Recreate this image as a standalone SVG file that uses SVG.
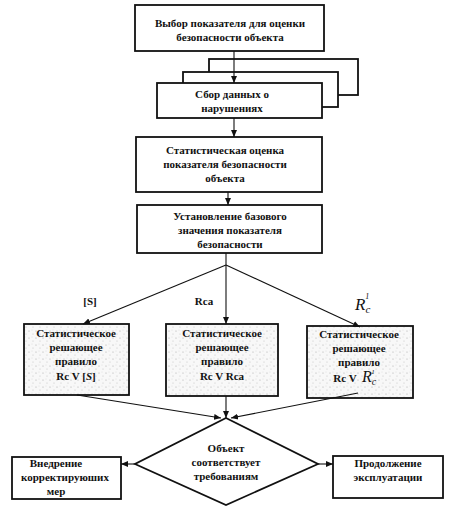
<svg xmlns="http://www.w3.org/2000/svg" width="456" height="521" viewBox="0 0 456 521">
<style>
.b{fill:#fff;stroke:#111;stroke-width:1.8}
.t{font-family:"Liberation Serif","DejaVu Serif",serif;font-weight:bold;font-size:11px;fill:#111;text-anchor:middle}
.l{stroke:#111;stroke-width:1.1;fill:none}
.r{font-family:"Liberation Serif",serif;font-style:italic;fill:#111}
.s{fill:url(#dots)}
</style>
<defs>
<marker id="a" markerWidth="8" markerHeight="8" refX="7" refY="4" orient="auto" markerUnits="userSpaceOnUse"><path d="M0,1 L7,4 L0,7 Z" fill="#111"/></marker>
<pattern id="dots" width="7" height="7" patternUnits="userSpaceOnUse"><rect width="7" height="7" fill="#f8f8f8"/><circle cx="1" cy="2" r="0.6" fill="#aaa"/><circle cx="5" cy="5" r="0.5" fill="#bbb"/><circle cx="4" cy="1" r="0.4" fill="#c4c4c4"/></pattern>
</defs>
<rect width="456" height="521" fill="#fff"/>
<g id="n1"><rect class="b" x="135" y="5" width="189" height="46"/><text class="t" x="230" y="27">Выбор показателя для оценки</text><text class="t" x="230" y="41">безопасности объекта</text></g>
<g id="n2"><rect class="b" x="209" y="59" width="149" height="36"/><rect class="b" x="183" y="72" width="155" height="35"/><rect class="b" x="157" y="83" width="165" height="35"/><text class="t" x="232" y="98">Сбор данных о</text><text class="t" x="232" y="112">нарушениях</text></g>
<g id="n3"><rect class="b" x="136" y="137" width="186" height="55"/><text class="t" x="225" y="154">Статистическая оценка</text><text class="t" x="225" y="168">показателя безопасности</text><text class="t" x="225" y="182">объекта</text></g>
<g id="n4"><rect class="b" x="137" y="205" width="185" height="48"/><text class="t" x="230" y="220">Установление базового</text><text class="t" x="230" y="234">значения показателя</text><text class="t" x="230" y="248">безопасности</text></g>
<g id="n5"><rect class="b s" x="24" y="324" width="105" height="71"/><text class="t" x="76" y="337">Статистическое</text><text class="t" x="76" y="351">решающее</text><text class="t" x="76" y="365">правило</text><text class="t" x="76" y="380">Rc V [<tspan font-style="italic">S</tspan>]</text></g>
<g id="n6"><rect class="b s" x="166" y="324" width="112" height="72"/><text class="t" x="222" y="337">Статистическое</text><text class="t" x="222" y="351">решающее</text><text class="t" x="222" y="365">правило</text><text class="t" x="222" y="380">Rc V Rca</text></g>
<g id="n7"><rect class="b s" x="307" y="326" width="106" height="72"/><text class="t" x="359" y="338">Статистическое</text><text class="t" x="359" y="352">решающее</text><text class="t" x="359" y="366">правило</text><text class="t" x="345" y="382">Rc V</text><text class="r" x="362" y="382" font-size="16">R<tspan font-size="10" dy="3">c</tspan><tspan font-size="7" dx="-5" dy="-11">1</tspan></text></g>
<g id="n8"><path class="b" d="M226,418 L318,464 L226,505 L135,464 Z" stroke-width="1.6"/><text class="t" x="226" y="452">Объект</text><text class="t" x="226" y="466">соответствует</text><text class="t" x="226" y="480">требованиям</text></g>
<g id="n9"><rect class="b" x="12" y="457" width="109" height="42"/><text class="t" x="56" y="467">Внедрение</text><text class="t" x="65" y="481">корректируюших</text><text class="t" x="56" y="495">мер</text></g>
<g id="n10"><rect class="b" x="333" y="456" width="110" height="42"/><text class="t" x="388" y="467">Продолжение</text><text class="t" x="388" y="481">эксплуатации</text></g>
<g id="labels"><text class="t" x="90" y="305">[S]</text><text class="t" x="204" y="305">Rca</text><text class="r" x="355" y="310" font-size="17">R<tspan font-size="11" dy="3">c</tspan><tspan font-size="8" dx="-5" dy="-14">1</tspan></text></g>
<g id="edges">
<line class="l" x1="234" y1="51" x2="234" y2="83" marker-end="url(#a)"/>
<line class="l" x1="234" y1="118" x2="234" y2="137" marker-end="url(#a)"/>
<line class="l" x1="228" y1="192" x2="228" y2="205" marker-end="url(#a)"/>
<line class="l" x1="226" y1="253" x2="226" y2="265"/>
<line class="l" x1="226" y1="265" x2="83" y2="324" marker-end="url(#a)"/>
<line class="l" x1="226" y1="265" x2="226" y2="324" marker-end="url(#a)"/>
<line class="l" x1="226" y1="265" x2="360" y2="327" marker-end="url(#a)"/>
<line class="l" x1="77" y1="395" x2="221" y2="418" marker-end="url(#a)"/>
<line class="l" x1="226" y1="396" x2="226" y2="418" marker-end="url(#a)"/>
<line class="l" x1="358" y1="393" x2="231" y2="418" marker-end="url(#a)"/>
<line class="l" x1="135" y1="464" x2="121" y2="464" marker-end="url(#a)"/>
<line class="l" x1="318" y1="464" x2="333" y2="464" marker-end="url(#a)"/>
</g>
</svg>
